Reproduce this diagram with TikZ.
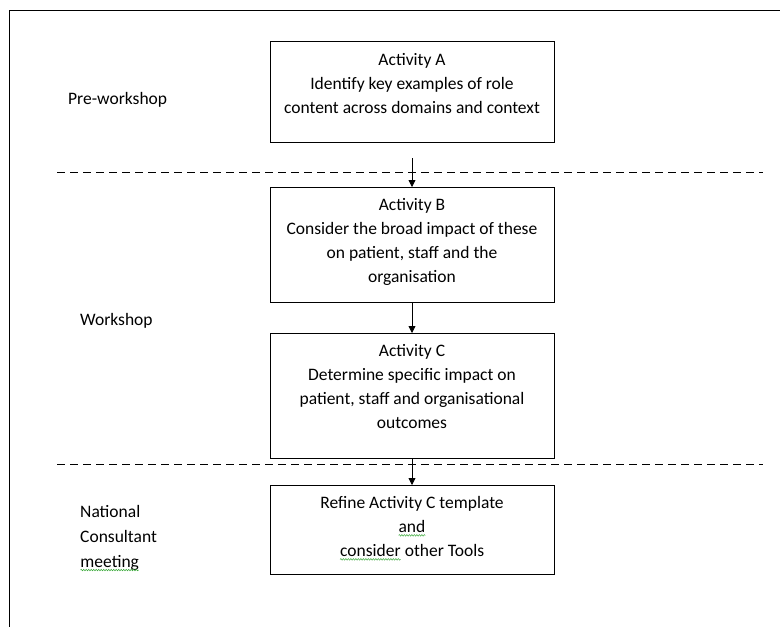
\documentclass[tikz,border=0pt]{standalone}
\usepackage{fontspec}
\setmainfont{Carlito}
\usetikzlibrary{arrows.meta,decorations.pathmorphing}
\definecolor{spellgreen}{RGB}{60,170,60}
\newcommand{\spellmark}[1]{\tikz[baseline=(w.base),x=1pt,y=1pt]{\node[inner sep=0pt,outer sep=0pt,draw=none,minimum width=0pt,minimum height=0pt,anchor=base] (w) {#1};\draw[spellgreen,line width=0.5pt,decorate,decoration={snake,amplitude=0.8pt,segment length=2.5pt}] ([yshift=-3pt]w.base west) -- ([yshift=-3pt]w.base east);}}
\begin{document}
\begin{tikzpicture}[x=1pt,y=-1pt,
  actbox/.style={draw, line width=0.9pt, minimum width=284pt, inner sep=0pt, anchor=north},
  acttext/.style={anchor=north, align=center, inner sep=0pt, font=\fontsize{17.5}{24}\selectfont},
  lbl/.style={anchor=west, align=left, inner sep=0pt, font=\fontsize{17.5}{24}\selectfont},
  flow/.style={-{Triangle[length=7pt,width=7pt]}, line width=0.8pt},
  sep/.style={dash pattern=on 8pt off 5pt, line width=0.8pt}]
\useasboundingbox (0,0) rectangle (780,627);
\draw[line width=1pt] (780,10) -- (9,10) -- (9,627);
\node[actbox, minimum height=101pt] (a) at (412,41) {};
\node[actbox, minimum height=115pt] (b) at (412,187) {};
\node[actbox, minimum height=125pt] (c) at (412,333) {};
\node[actbox, minimum height=89pt] (d) at (412,485) {};
\node[acttext] (ta) at ([yshift=-12pt]a.north) {Activity A\\Identify key examples of role\\content across domains and context};
\node[acttext] (tb) at ([yshift=-11pt]b.north) {Activity B\\Consider the broad impact of these\\on patient, staff and the\\organisation};
\node[acttext] (tc) at ([yshift=-11pt]c.north) {Activity C\\Determine specific impact on\\patient, staff and organisational\\outcomes};
\node[acttext] (td) at ([yshift=-11pt]d.north) {Refine Activity C template\\\spellmark{and}\\\spellmark{consider} other Tools};
\coordinate (s1) at (57,172); \coordinate (e1) at (763,172);
\coordinate (s2) at (57,464); \coordinate (e2) at (763,464);
\draw[sep] (s1) -- (e1);
\draw[sep] (s2) -- (e2);
\coordinate (fa) at (412,158);
\draw[flow] (fa) -- (b.north);
\draw[flow] (b.south) -- (c.north);
\draw[flow] (c.south) -- (d.north);
\node[lbl] (l1) at (68,100) {Pre-workshop};
\node[lbl] (l2) at (80,321) {Workshop};
\node[lbl, font=\fontsize{17.5}{25}\selectfont] (l3) at (80,538) {National\\Consultant\\\spellmark{meeting}};
\end{tikzpicture}
\end{document}
